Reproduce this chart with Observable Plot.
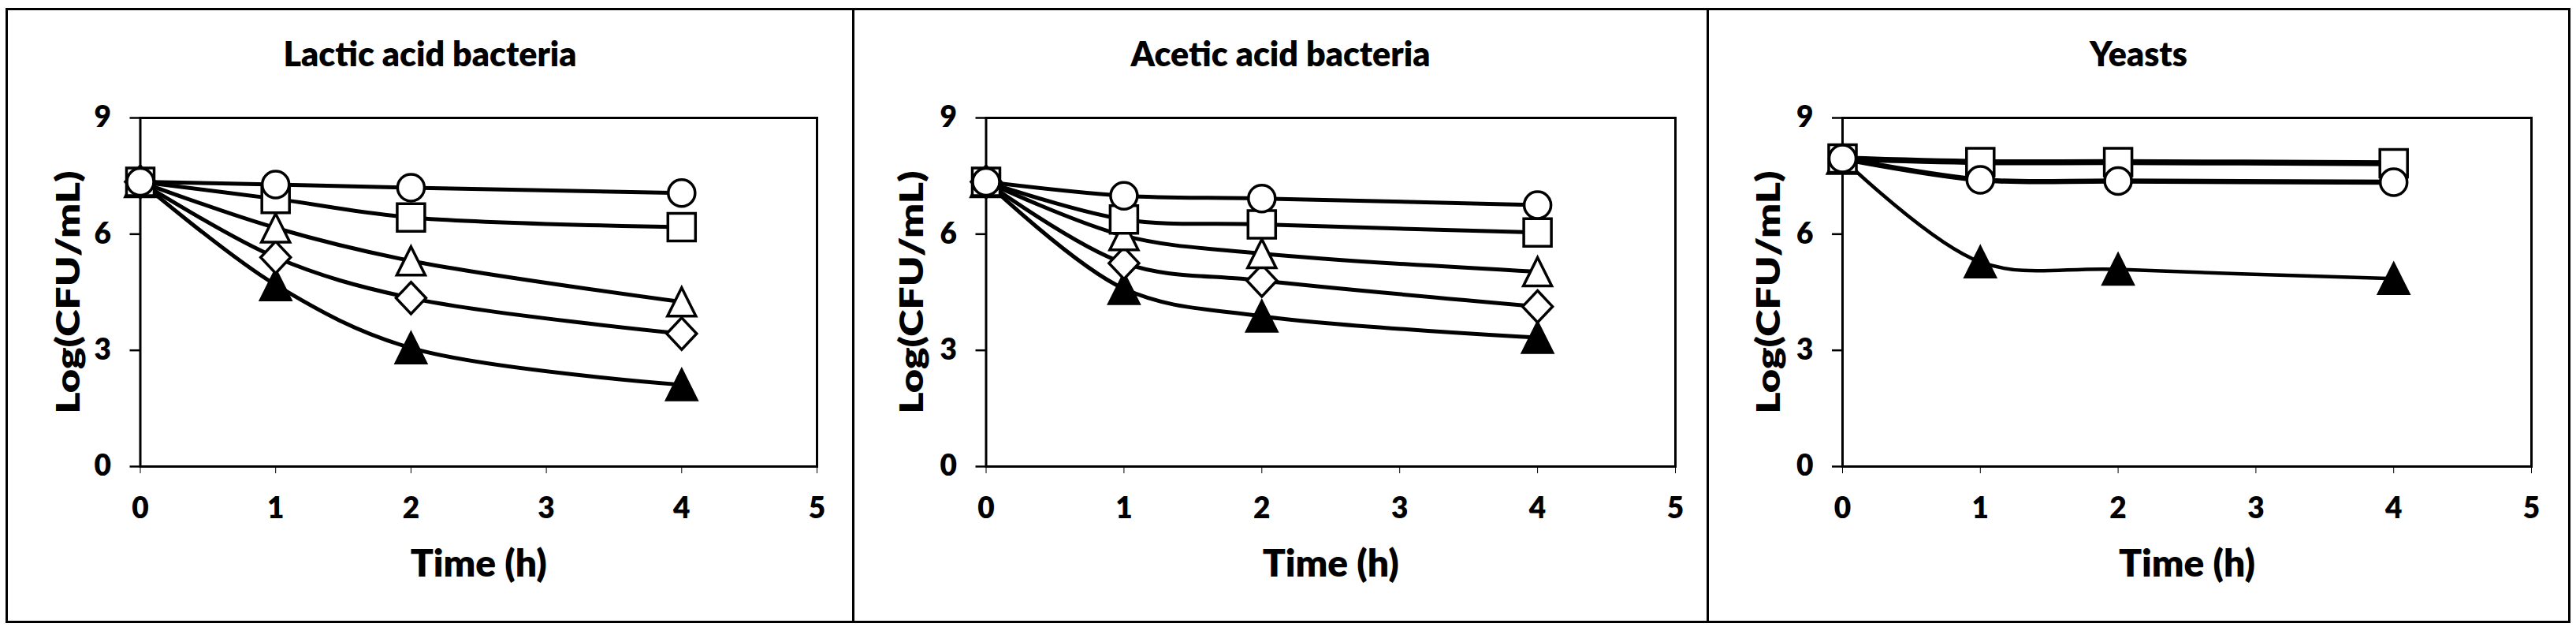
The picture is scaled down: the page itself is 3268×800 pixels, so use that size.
<!DOCTYPE html>
<html>
<head>
<meta charset="utf-8">
<script src="https://cdn.jsdelivr.net/npm/d3@7"></script>
<script src="https://cdn.jsdelivr.net/npm/@observablehq/plot@0.6"></script>
<style>
  html, body { margin: 0; padding: 0; background: #fff; }
  #wrap { position: relative; width: 3268px; height: 800px; background: #fff; overflow: hidden; }
  #wrap svg { position: absolute; top: 0; background: transparent; }
  .bd { position: absolute; background: #000; }
</style>
</head>
<body>
<div id="wrap"></div>
<script>
// ---- data ----
const time = [0, 1, 2, 4];
const xTicks = [0, 1, 2, 3, 4, 5];
const yTicks = [0, 3, 6, 9];
const panelTitles = ["Lactic acid bacteria", "Acetic acid bacteria", "Yeasts"];
const xLabel = "Time (h)";
const yLabel = "Log(CFU/mL)";

// Lactic acid bacteria
const labCircle   = [7.35, 7.28, 7.20, 7.06];
const labSquare   = [7.35, 6.91, 6.43, 6.18];
const labTriangle = [7.35, 6.16, 5.31, 4.25];
const labDiamond  = [7.35, 5.40, 4.35, 3.43];
const labFilled   = [7.35, 4.69, 3.06, 2.11];

// Acetic acid bacteria
const aabCircle   = [7.35, 6.99, 6.92, 6.75];
const aabSquare   = [7.35, 6.38, 6.25, 6.04];
const aabTriangle = [7.35, 5.96, 5.50, 5.03];
const aabDiamond  = [7.35, 5.25, 4.80, 4.13];
const aabFilled   = [7.35, 4.59, 3.88, 3.33];

// Yeasts
const yeaSquare   = [7.95, 7.86, 7.86, 7.83];
const yeaCircle   = [7.95, 7.40, 7.37, 7.34];
const yeaFilled   = [7.95, 5.28, 5.09, 4.85];

// ---- marker shapes (bbox-centred, like spreadsheet markers) ----
const rOf = size => Math.sqrt(size / Math.PI);
const symTriangle = { draw(ctx, size) { const r = rOf(size); ctx.moveTo(0, -r); ctx.lineTo(r, r); ctx.lineTo(-r, r); ctx.closePath(); } };
const symDiamond  = { draw(ctx, size) { const r = rOf(size); ctx.moveTo(0, -r * 1.06); ctx.lineTo(r, 0); ctx.lineTo(0, r * 1.06); ctx.lineTo(-r, 0); ctx.closePath(); } };
const symSquare   = { draw(ctx, size) { const r = rOf(size); ctx.moveTo(-r, -r); ctx.lineTo(r, -r); ctx.lineTo(r, r); ctx.lineTo(-r, r); ctx.closePath(); } };

const styles = {
  filled:   { symbol: symTriangle, fill: "black", r: 19 },
  diamond:  { symbol: symDiamond,  fill: "white", r: 19 },
  triangle: { symbol: symTriangle, fill: "white", r: 18 },
  square:   { symbol: symSquare,   fill: "white", r: 17.5 },
  circle:   { symbol: "circle",    fill: "white", r: 17 }
};

const panels = [
  { title: panelTitles[0], left: 8, width: 1074, mL: 169.5, mR: 46, yDx: -90,
    series: [
      { kind: "filled",   values: labFilled,   lw: 5 },
      { kind: "diamond",  values: labDiamond,  lw: 5 },
      { kind: "triangle", values: labTriangle, lw: 5 },
      { kind: "square",   values: labSquare,   lw: 5 },
      { kind: "circle",   values: labCircle,   lw: 5 }
    ] },
  { title: panelTitles[1], left: 1082, width: 1084, mL: 168.5, mR: 41, yDx: -93,
    series: [
      { kind: "filled",   values: aabFilled,   lw: 5 },
      { kind: "diamond",  values: aabDiamond,  lw: 5 },
      { kind: "triangle", values: aabTriangle, lw: 5 },
      { kind: "square",   values: aabSquare,   lw: 5 },
      { kind: "circle",   values: aabCircle,   lw: 5 }
    ] },
  { title: panelTitles[2], left: 2166, width: 1093, mL: 171, mR: 48, yDx: -93,
    series: [
      { kind: "filled", values: yeaFilled, lw: 4.5 },
      { kind: "square", values: yeaSquare, lw: 7.5 },
      { kind: "circle", values: yeaCircle, lw: 6.5 }
    ] }
];

const FONT = "Lato, 'Open Sans', sans-serif";
const W = 800; // heavy weight
const wrap = document.getElementById("wrap");

for (const p of panels) {
  const lineMarks = p.series.map(s =>
    Plot.line(time.map((t, i) => ({ t, v: s.values[i] })), {
      x: "t", y: "v", curve: "catmull-rom", stroke: "black", strokeWidth: s.lw
    }));
  const dotMarks = p.series.map(s => {
    const st = styles[s.kind];
    return Plot.dot(time.map((t, i) => ({ t, v: s.values[i] })), {
      x: "t", y: "v", symbol: st.symbol, r: st.r, fill: st.fill,
      stroke: "black", strokeWidth: 3.5
    });
  });
  const chart = Plot.plot({
    width: p.width, height: 800,
    marginLeft: p.mL, marginRight: p.mR, marginTop: 149, marginBottom: 209,
    style: { fontFamily: FONT, fontWeight: W, fontSize: "37px", color: "black", background: "transparent", overflow: "visible" },
    x: { domain: [0, 5] },
    y: { domain: [0, 9] },
    marks: [
      Plot.axisY({ ticks: yTicks, tickFormat: d => String(d), tickSize: 13, tickPadding: 24, fontSize: 37, fontWeight: W, label: null, strokeWidth: 2.5 }),
      Plot.axisX({ ticks: xTicks, tickFormat: d => String(d), tickSize: 9, tickPadding: 30, fontSize: 37, fontWeight: W, label: null, strokeWidth: 1 }),
      Plot.frame({ stroke: "black", strokeWidth: 3 }),
      Plot.text([p.title], { text: d => d, frameAnchor: "top", textAnchor: "middle", dx: (p.mR - p.mL) / 2, dy: -66, lineAnchor: "bottom", fontSize: 43, fontWeight: W }),
      Plot.text([xLabel], { text: d => d, frameAnchor: "bottom", textAnchor: "middle", dy: 139, lineAnchor: "bottom", fontSize: 48, fontWeight: W }),
      Plot.text([yLabel], { text: d => d, frameAnchor: "left", textAnchor: "middle", lineAnchor: "middle", dx: p.yDx, rotate: -90, fontSize: 41, fontWeight: W, className: "ylab" }),
      ...lineMarks,
      ...dotMarks
    ]
  });
  // the reference's rotated label is drawn stretched along its length
  const yl = chart.querySelector(".ylab text");
  if (yl) {
    const tr = yl.getAttribute("transform") || "";
    yl.setAttribute("transform", tr + " scale(1.27,1)");
  }
  chart.style.left = p.left + "px";
  wrap.appendChild(chart);
}

// panel borders
function bar(l, t, w, h) { const d = document.createElement("div"); d.className = "bd"; Object.assign(d.style, { left: l + "px", top: t + "px", width: w + "px", height: h + "px" }); wrap.appendChild(d); }
bar(7, 10, 3254, 3);      // top
bar(7, 787, 3254, 3);     // bottom
bar(7, 10, 3, 780);       // left
bar(3258, 10, 3, 780);    // right
bar(1081, 10, 3, 780);    // separator 1
bar(2165, 10, 3, 780);    // separator 2
</script>
</body>
</html>
